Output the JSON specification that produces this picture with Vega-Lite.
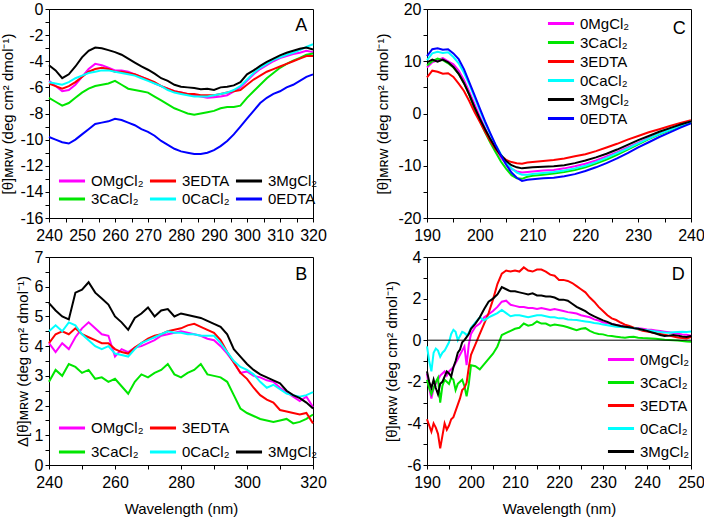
{
  "$schema": "https://vega.github.io/schema/vega-lite/v6.json",
  "padding": {"left": 0, "top": 0, "right": 0, "bottom": 0},
  "background": "white",
  "datasets": {
    "A": [
      {"w":240,"OMgCl₂":-5.5,"3EDTA":-5.7,"3MgCl₂":-4.3,"3CaCl₂":-6.8,"0CaCl₂":-5.6,"0EDTA":-9.8},
      {"w":242,"OMgCl₂":-5.9,"3EDTA":-5.9,"3MgCl₂":-4.7,"3CaCl₂":-7.1,"0CaCl₂":-5.7,"0EDTA":-10.0},
      {"w":244,"OMgCl₂":-6.3,"3EDTA":-6.1,"3MgCl₂":-5.3,"3CaCl₂":-7.4,"0CaCl₂":-5.8,"0EDTA":-10.2},
      {"w":246,"OMgCl₂":-6.2,"3EDTA":-5.9,"3MgCl₂":-5.0,"3CaCl₂":-7.2,"0CaCl₂":-5.6,"0EDTA":-10.3},
      {"w":248,"OMgCl₂":-5.8,"3EDTA":-5.6,"3MgCl₂":-4.4,"3CaCl₂":-6.8,"0CaCl₂":-5.3,"0EDTA":-10.0},
      {"w":250,"OMgCl₂":-5.2,"3EDTA":-5.2,"3MgCl₂":-3.7,"3CaCl₂":-6.4,"0CaCl₂":-5.1,"0EDTA":-9.6},
      {"w":252,"OMgCl₂":-4.6,"3EDTA":-4.8,"3MgCl₂":-3.2,"3CaCl₂":-6.1,"0CaCl₂":-4.9,"0EDTA":-9.2},
      {"w":254,"OMgCl₂":-4.2,"3EDTA":-4.6,"3MgCl₂":-2.95,"3CaCl₂":-5.9,"0CaCl₂":-4.8,"0EDTA":-8.8},
      {"w":256,"OMgCl₂":-4.3,"3EDTA":-4.5,"3MgCl₂":-3.0,"3CaCl₂":-5.8,"0CaCl₂":-4.7,"0EDTA":-8.7},
      {"w":258,"OMgCl₂":-4.5,"3EDTA":-4.6,"3MgCl₂":-3.15,"3CaCl₂":-5.7,"0CaCl₂":-4.7,"0EDTA":-8.6},
      {"w":260,"OMgCl₂":-4.7,"3EDTA":-4.8,"3MgCl₂":-3.3,"3CaCl₂":-5.5,"0CaCl₂":-4.8,"0EDTA":-8.4},
      {"w":262,"OMgCl₂":-4.7,"3EDTA":-4.8,"3MgCl₂":-3.5,"3CaCl₂":-5.8,"0CaCl₂":-4.9,"0EDTA":-8.5},
      {"w":264,"OMgCl₂":-4.8,"3EDTA":-4.9,"3MgCl₂":-3.8,"3CaCl₂":-6.1,"0CaCl₂":-5.0,"0EDTA":-8.7},
      {"w":266,"OMgCl₂":-5.0,"3EDTA":-5.0,"3MgCl₂":-4.1,"3CaCl₂":-6.2,"0CaCl₂":-5.1,"0EDTA":-8.9},
      {"w":268,"OMgCl₂":-5.2,"3EDTA":-5.2,"3MgCl₂":-4.4,"3CaCl₂":-6.3,"0CaCl₂":-5.3,"0EDTA":-9.2},
      {"w":270,"OMgCl₂":-5.4,"3EDTA":-5.4,"3MgCl₂":-4.65,"3CaCl₂":-6.4,"0CaCl₂":-5.5,"0EDTA":-9.4},
      {"w":272,"OMgCl₂":-5.7,"3EDTA":-5.6,"3MgCl₂":-4.95,"3CaCl₂":-6.7,"0CaCl₂":-5.7,"0EDTA":-9.7},
      {"w":274,"OMgCl₂":-5.9,"3EDTA":-5.9,"3MgCl₂":-5.3,"3CaCl₂":-7.0,"0CaCl₂":-5.9,"0EDTA":-10.1},
      {"w":276,"OMgCl₂":-6.1,"3EDTA":-6.1,"3MgCl₂":-5.5,"3CaCl₂":-7.3,"0CaCl₂":-6.2,"0EDTA":-10.4},
      {"w":278,"OMgCl₂":-6.3,"3EDTA":-6.3,"3MgCl₂":-5.8,"3CaCl₂":-7.6,"0CaCl₂":-6.4,"0EDTA":-10.7},
      {"w":280,"OMgCl₂":-6.4,"3EDTA":-6.4,"3MgCl₂":-5.95,"3CaCl₂":-7.8,"0CaCl₂":-6.5,"0EDTA":-10.9},
      {"w":282,"OMgCl₂":-6.5,"3EDTA":-6.5,"3MgCl₂":-6.0,"3CaCl₂":-8.0,"0CaCl₂":-6.6,"0EDTA":-11.0},
      {"w":284,"OMgCl₂":-6.6,"3EDTA":-6.5,"3MgCl₂":-6.05,"3CaCl₂":-8.1,"0CaCl₂":-6.7,"0EDTA":-11.1},
      {"w":286,"OMgCl₂":-6.7,"3EDTA":-6.6,"3MgCl₂":-6.15,"3CaCl₂":-8.0,"0CaCl₂":-6.7,"0EDTA":-11.1},
      {"w":288,"OMgCl₂":-6.8,"3EDTA":-6.6,"3MgCl₂":-6.1,"3CaCl₂":-7.9,"0CaCl₂":-6.7,"0EDTA":-11.0},
      {"w":290,"OMgCl₂":-6.75,"3EDTA":-6.6,"3MgCl₂":-6.2,"3CaCl₂":-7.8,"0CaCl₂":-6.6,"0EDTA":-10.8},
      {"w":292,"OMgCl₂":-6.7,"3EDTA":-6.5,"3MgCl₂":-6.0,"3CaCl₂":-7.6,"0CaCl₂":-6.5,"0EDTA":-10.5},
      {"w":294,"OMgCl₂":-6.6,"3EDTA":-6.4,"3MgCl₂":-5.95,"3CaCl₂":-7.5,"0CaCl₂":-6.4,"0EDTA":-10.1},
      {"w":296,"OMgCl₂":-6.3,"3EDTA":-6.3,"3MgCl₂":-5.85,"3CaCl₂":-7.5,"0CaCl₂":-6.2,"0EDTA":-9.6},
      {"w":298,"OMgCl₂":-6.0,"3EDTA":-6.2,"3MgCl₂":-5.6,"3CaCl₂":-7.4,"0CaCl₂":-5.9,"0EDTA":-9.0},
      {"w":300,"OMgCl₂":-5.5,"3EDTA":-5.8,"3MgCl₂":-5.0,"3CaCl₂":-6.8,"0CaCl₂":-5.4,"0EDTA":-8.4},
      {"w":302,"OMgCl₂":-5.0,"3EDTA":-5.4,"3MgCl₂":-4.7,"3CaCl₂":-6.3,"0CaCl₂":-4.9,"0EDTA":-7.8},
      {"w":304,"OMgCl₂":-4.6,"3EDTA":-5.1,"3MgCl₂":-4.35,"3CaCl₂":-5.8,"0CaCl₂":-4.5,"0EDTA":-7.2},
      {"w":306,"OMgCl₂":-4.3,"3EDTA":-4.8,"3MgCl₂":-4.05,"3CaCl₂":-5.3,"0CaCl₂":-4.2,"0EDTA":-6.8},
      {"w":308,"OMgCl₂":-4.0,"3EDTA":-4.6,"3MgCl₂":-3.8,"3CaCl₂":-4.9,"0CaCl₂":-3.9,"0EDTA":-6.5},
      {"w":310,"OMgCl₂":-3.75,"3EDTA":-4.4,"3MgCl₂":-3.55,"3CaCl₂":-4.5,"0CaCl₂":-3.7,"0EDTA":-6.3},
      {"w":312,"OMgCl₂":-3.6,"3EDTA":-4.2,"3MgCl₂":-3.35,"3CaCl₂":-4.2,"0CaCl₂":-3.5,"0EDTA":-6.0},
      {"w":314,"OMgCl₂":-3.45,"3EDTA":-4.0,"3MgCl₂":-3.2,"3CaCl₂":-3.95,"0CaCl₂":-3.35,"0EDTA":-5.8},
      {"w":316,"OMgCl₂":-3.35,"3EDTA":-3.8,"3MgCl₂":-3.05,"3CaCl₂":-3.75,"0CaCl₂":-3.15,"0EDTA":-5.5},
      {"w":318,"OMgCl₂":-3.2,"3EDTA":-3.6,"3MgCl₂":-2.95,"3CaCl₂":-3.5,"0CaCl₂":-2.9,"0EDTA":-5.2},
      {"w":320,"OMgCl₂":-3.3,"3EDTA":-3.6,"3MgCl₂":-3.1,"3CaCl₂":-3.4,"0CaCl₂":-2.7,"0EDTA":-5.0}
    ],
    "B": [
      {"w":240,"OMgCl₂":4.1,"3EDTA":4.1,"0CaCl₂":4.5,"3CaCl₂":2.8,"3MgCl₂":5.45},
      {"w":242,"OMgCl₂":3.8,"3EDTA":4.4,"0CaCl₂":4.7,"3CaCl₂":3.2,"3MgCl₂":5.2},
      {"w":244,"OMgCl₂":4.1,"3EDTA":4.5,"0CaCl₂":4.5,"3CaCl₂":3.0,"3MgCl₂":5.0},
      {"w":246,"OMgCl₂":3.9,"3EDTA":4.4,"0CaCl₂":4.8,"3CaCl₂":3.4,"3MgCl₂":4.9},
      {"w":248,"OMgCl₂":4.3,"3EDTA":4.6,"0CaCl₂":4.7,"3CaCl₂":3.3,"3MgCl₂":5.8},
      {"w":250,"OMgCl₂":4.6,"3EDTA":4.4,"0CaCl₂":4.4,"3CaCl₂":3.1,"3MgCl₂":5.9},
      {"w":252,"OMgCl₂":4.8,"3EDTA":4.3,"0CaCl₂":4.2,"3CaCl₂":3.2,"3MgCl₂":6.15},
      {"w":254,"OMgCl₂":4.6,"3EDTA":4.2,"0CaCl₂":4.0,"3CaCl₂":2.9,"3MgCl₂":5.8},
      {"w":256,"OMgCl₂":4.4,"3EDTA":4.1,"0CaCl₂":3.9,"3CaCl₂":2.95,"3MgCl₂":5.6},
      {"w":258,"OMgCl₂":4.35,"3EDTA":4.1,"0CaCl₂":4.0,"3CaCl₂":2.8,"3MgCl₂":5.4},
      {"w":260,"OMgCl₂":3.65,"3EDTA":3.9,"0CaCl₂":3.75,"3CaCl₂":2.9,"3MgCl₂":5.0},
      {"w":262,"OMgCl₂":3.9,"3EDTA":3.8,"0CaCl₂":3.7,"3CaCl₂":2.65,"3MgCl₂":4.8},
      {"w":264,"OMgCl₂":3.8,"3EDTA":3.75,"0CaCl₂":3.65,"3CaCl₂":2.4,"3MgCl₂":4.55},
      {"w":266,"OMgCl₂":3.95,"3EDTA":3.95,"0CaCl₂":3.9,"3CaCl₂":2.8,"3MgCl₂":4.95},
      {"w":268,"OMgCl₂":4.0,"3EDTA":4.1,"0CaCl₂":4.1,"3CaCl₂":3.05,"3MgCl₂":5.1},
      {"w":270,"OMgCl₂":4.1,"3EDTA":4.25,"0CaCl₂":4.2,"3CaCl₂":2.95,"3MgCl₂":5.3},
      {"w":272,"OMgCl₂":4.2,"3EDTA":4.35,"0CaCl₂":4.3,"3CaCl₂":3.1,"3MgCl₂":5.0},
      {"w":274,"OMgCl₂":4.35,"3EDTA":4.4,"0CaCl₂":4.4,"3CaCl₂":3.2,"3MgCl₂":5.2},
      {"w":276,"OMgCl₂":4.4,"3EDTA":4.5,"0CaCl₂":4.5,"3CaCl₂":3.4,"3MgCl₂":5.25},
      {"w":278,"OMgCl₂":4.45,"3EDTA":4.55,"0CaCl₂":4.45,"3CaCl₂":3.05,"3MgCl₂":5.0},
      {"w":280,"OMgCl₂":4.5,"3EDTA":4.6,"0CaCl₂":4.45,"3CaCl₂":2.95,"3MgCl₂":5.1},
      {"w":282,"OMgCl₂":4.45,"3EDTA":4.7,"0CaCl₂":4.4,"3CaCl₂":3.1,"3MgCl₂":5.05},
      {"w":284,"OMgCl₂":4.4,"3EDTA":4.75,"0CaCl₂":4.4,"3CaCl₂":3.2,"3MgCl₂":5.0},
      {"w":286,"OMgCl₂":4.35,"3EDTA":4.65,"0CaCl₂":4.35,"3CaCl₂":3.4,"3MgCl₂":4.95},
      {"w":288,"OMgCl₂":4.25,"3EDTA":4.55,"0CaCl₂":4.35,"3CaCl₂":3.05,"3MgCl₂":4.85},
      {"w":290,"OMgCl₂":4.2,"3EDTA":4.45,"0CaCl₂":4.35,"3CaCl₂":3.0,"3MgCl₂":4.75},
      {"w":292,"OMgCl₂":4.0,"3EDTA":4.2,"0CaCl₂":4.1,"3CaCl₂":2.95,"3MgCl₂":4.65},
      {"w":294,"OMgCl₂":3.75,"3EDTA":3.8,"0CaCl₂":3.8,"3CaCl₂":2.8,"3MgCl₂":4.4},
      {"w":296,"OMgCl₂":3.45,"3EDTA":3.45,"0CaCl₂":3.5,"3CaCl₂":2.35,"3MgCl₂":3.9},
      {"w":298,"OMgCl₂":3.1,"3EDTA":3.1,"0CaCl₂":3.3,"3CaCl₂":1.9,"3MgCl₂":3.65},
      {"w":300,"OMgCl₂":3.15,"3EDTA":2.9,"0CaCl₂":3.2,"3CaCl₂":1.75,"3MgCl₂":3.4},
      {"w":302,"OMgCl₂":3.0,"3EDTA":2.6,"0CaCl₂":3.05,"3CaCl₂":1.65,"3MgCl₂":3.2},
      {"w":304,"OMgCl₂":2.95,"3EDTA":2.35,"0CaCl₂":2.8,"3CaCl₂":1.55,"3MgCl₂":3.05},
      {"w":306,"OMgCl₂":2.85,"3EDTA":2.2,"0CaCl₂":2.6,"3CaCl₂":1.5,"3MgCl₂":2.95},
      {"w":308,"OMgCl₂":2.8,"3EDTA":2.1,"0CaCl₂":2.7,"3CaCl₂":1.45,"3MgCl₂":2.85},
      {"w":310,"OMgCl₂":2.6,"3EDTA":1.85,"0CaCl₂":2.55,"3CaCl₂":1.5,"3MgCl₂":2.75},
      {"w":312,"OMgCl₂":2.45,"3EDTA":1.8,"0CaCl₂":2.4,"3CaCl₂":1.55,"3MgCl₂":2.5},
      {"w":314,"OMgCl₂":2.3,"3EDTA":1.75,"0CaCl₂":2.35,"3CaCl₂":1.4,"3MgCl₂":2.35},
      {"w":316,"OMgCl₂":2.15,"3EDTA":1.7,"0CaCl₂":2.3,"3CaCl₂":1.45,"3MgCl₂":2.25},
      {"w":318,"OMgCl₂":2.3,"3EDTA":1.75,"0CaCl₂":2.35,"3CaCl₂":1.55,"3MgCl₂":2.1},
      {"w":320,"OMgCl₂":1.95,"3EDTA":1.4,"0CaCl₂":2.45,"3CaCl₂":1.7,"3MgCl₂":1.9}
    ],
    "C": [
      {"w":190,"0MgCl₂":8.8,"3CaCl₂":9.2,"3EDTA":6.9,"0CaCl₂":10.2,"3MgCl₂":9.8,"0EDTA":11.0},
      {"w":191,"0MgCl₂":9.8,"3CaCl₂":10.0,"3EDTA":8.2,"0CaCl₂":11.5,"3MgCl₂":10.3,"0EDTA":12.3},
      {"w":192,"0MgCl₂":10.2,"3CaCl₂":10.5,"3EDTA":8.0,"0CaCl₂":11.8,"3MgCl₂":9.9,"0EDTA":12.5},
      {"w":193,"0MgCl₂":10.6,"3CaCl₂":10.2,"3EDTA":7.6,"0CaCl₂":11.6,"3MgCl₂":10.3,"0EDTA":12.2},
      {"w":194,"0MgCl₂":10.0,"3CaCl₂":9.6,"3EDTA":7.7,"0CaCl₂":11.7,"3MgCl₂":9.8,"0EDTA":12.3},
      {"w":195,"0MgCl₂":9.4,"3CaCl₂":8.8,"3EDTA":7.0,"0CaCl₂":10.8,"3MgCl₂":8.9,"0EDTA":11.5},
      {"w":196,"0MgCl₂":8.2,"3CaCl₂":7.6,"3EDTA":5.7,"0CaCl₂":9.6,"3MgCl₂":7.6,"0EDTA":10.4},
      {"w":197,"0MgCl₂":6.4,"3CaCl₂":5.8,"3EDTA":4.3,"0CaCl₂":7.8,"3MgCl₂":5.8,"0EDTA":8.5},
      {"w":198,"0MgCl₂":4.2,"3CaCl₂":3.6,"3EDTA":2.4,"0CaCl₂":5.6,"3MgCl₂":3.6,"0EDTA":6.0},
      {"w":199,"0MgCl₂":1.8,"3CaCl₂":1.0,"3EDTA":0.3,"0CaCl₂":3.1,"3MgCl₂":1.2,"0EDTA":3.5},
      {"w":200,"0MgCl₂":-0.6,"3CaCl₂":-1.4,"3EDTA":-1.6,"0CaCl₂":0.6,"3MgCl₂":-1.0,"0EDTA":1.0},
      {"w":201,"0MgCl₂":-2.8,"3CaCl₂":-3.6,"3EDTA":-3.5,"0CaCl₂":-1.8,"3MgCl₂":-3.0,"0EDTA":-1.5},
      {"w":202,"0MgCl₂":-4.9,"3CaCl₂":-5.6,"3EDTA":-5.3,"0CaCl₂":-4.0,"3MgCl₂":-4.9,"0EDTA":-3.8},
      {"w":203,"0MgCl₂":-6.8,"3CaCl₂":-7.4,"3EDTA":-6.8,"0CaCl₂":-6.0,"3MgCl₂":-6.6,"0EDTA":-6.0},
      {"w":204,"0MgCl₂":-8.4,"3CaCl₂":-9.2,"3EDTA":-8.0,"0CaCl₂":-7.8,"3MgCl₂":-8.0,"0EDTA":-8.0},
      {"w":205,"0MgCl₂":-9.7,"3CaCl₂":-10.6,"3EDTA":-8.9,"0CaCl₂":-9.3,"3MgCl₂":-9.1,"0EDTA":-9.8},
      {"w":206,"0MgCl₂":-10.6,"3CaCl₂":-11.8,"3EDTA":-9.3,"0CaCl₂":-10.5,"3MgCl₂":-9.9,"0EDTA":-11.3},
      {"w":207,"0MgCl₂":-11.1,"3CaCl₂":-12.4,"3EDTA":-9.5,"0CaCl₂":-11.3,"3MgCl₂":-10.3,"0EDTA":-12.3},
      {"w":208,"0MgCl₂":-11.3,"3CaCl₂":-12.5,"3EDTA":-9.6,"0CaCl₂":-11.7,"3MgCl₂":-10.5,"0EDTA":-12.9},
      {"w":209,"0MgCl₂":-11.2,"3CaCl₂":-12.1,"3EDTA":-9.4,"0CaCl₂":-11.7,"3MgCl₂":-10.4,"0EDTA":-12.7},
      {"w":210,"0MgCl₂":-11.1,"3CaCl₂":-11.9,"3EDTA":-9.3,"0CaCl₂":-11.6,"3MgCl₂":-10.3,"0EDTA":-12.6},
      {"w":212,"0MgCl₂":-10.9,"3CaCl₂":-11.7,"3EDTA":-9.1,"0CaCl₂":-11.4,"3MgCl₂":-10.2,"0EDTA":-12.4},
      {"w":214,"0MgCl₂":-10.8,"3CaCl₂":-11.5,"3EDTA":-8.9,"0CaCl₂":-11.2,"3MgCl₂":-10.1,"0EDTA":-12.3},
      {"w":216,"0MgCl₂":-10.5,"3CaCl₂":-11.2,"3EDTA":-8.6,"0CaCl₂":-10.9,"3MgCl₂":-9.9,"0EDTA":-12.0},
      {"w":218,"0MgCl₂":-10.1,"3CaCl₂":-10.8,"3EDTA":-8.2,"0CaCl₂":-10.5,"3MgCl₂":-9.5,"0EDTA":-11.6},
      {"w":220,"0MgCl₂":-9.6,"3CaCl₂":-10.3,"3EDTA":-7.8,"0CaCl₂":-10.0,"3MgCl₂":-9.0,"0EDTA":-11.0},
      {"w":222,"0MgCl₂":-9.0,"3CaCl₂":-9.6,"3EDTA":-7.2,"0CaCl₂":-9.3,"3MgCl₂":-8.4,"0EDTA":-10.3},
      {"w":224,"0MgCl₂":-8.2,"3CaCl₂":-8.8,"3EDTA":-6.5,"0CaCl₂":-8.5,"3MgCl₂":-7.7,"0EDTA":-9.5},
      {"w":226,"0MgCl₂":-7.4,"3CaCl₂":-7.9,"3EDTA":-5.8,"0CaCl₂":-7.6,"3MgCl₂":-6.9,"0EDTA":-8.6},
      {"w":228,"0MgCl₂":-6.5,"3CaCl₂":-6.9,"3EDTA":-5.0,"0CaCl₂":-6.7,"3MgCl₂":-6.0,"0EDTA":-7.6},
      {"w":230,"0MgCl₂":-5.6,"3CaCl₂":-5.9,"3EDTA":-4.3,"0CaCl₂":-5.7,"3MgCl₂":-5.1,"0EDTA":-6.5},
      {"w":232,"0MgCl₂":-4.7,"3CaCl₂":-4.9,"3EDTA":-3.6,"0CaCl₂":-4.8,"3MgCl₂":-4.3,"0EDTA":-5.5},
      {"w":234,"0MgCl₂":-3.9,"3CaCl₂":-4.0,"3EDTA":-3.0,"0CaCl₂":-3.9,"3MgCl₂":-3.5,"0EDTA":-4.5},
      {"w":236,"0MgCl₂":-3.1,"3CaCl₂":-3.2,"3EDTA":-2.4,"0CaCl₂":-3.1,"3MgCl₂":-2.8,"0EDTA":-3.6},
      {"w":238,"0MgCl₂":-2.3,"3CaCl₂":-2.4,"3EDTA":-1.8,"0CaCl₂":-2.3,"3MgCl₂":-2.1,"0EDTA":-2.7},
      {"w":240,"0MgCl₂":-1.6,"3CaCl₂":-1.7,"3EDTA":-1.3,"0CaCl₂":-1.5,"3MgCl₂":-1.5,"0EDTA":-1.9}
    ],
    "D": [
      {"w":190.0,"0MgCl₂":-1.6,"3CaCl₂":-1.9,"3EDTA":-3.8,"0CaCl₂":-0.3,"3MgCl₂":-1.5},
      {"w":190.5,"0MgCl₂":-2.3,"3CaCl₂":-2.3,"3EDTA":-4.1,"0CaCl₂":-1.0,"3MgCl₂":-2.0},
      {"w":191.0,"0MgCl₂":-2.8,"3CaCl₂":-2.6,"3EDTA":-4.4,"0CaCl₂":-1.5,"3MgCl₂":-2.3},
      {"w":191.5,"0MgCl₂":-2.3,"3CaCl₂":-2.3,"3EDTA":-4.0,"0CaCl₂":-0.6,"3MgCl₂":-1.9},
      {"w":192.0,"0MgCl₂":-2.1,"3CaCl₂":-2.0,"3EDTA":-4.2,"0CaCl₂":-0.4,"3MgCl₂":-2.3},
      {"w":192.5,"0MgCl₂":-1.9,"3CaCl₂":-1.8,"3EDTA":-4.5,"0CaCl₂":-0.5,"3MgCl₂":-2.6},
      {"w":193.0,"0MgCl₂":-1.7,"3CaCl₂":-3.0,"3EDTA":-5.2,"0CaCl₂":-0.8,"3MgCl₂":-2.1},
      {"w":193.5,"0MgCl₂":-1.6,"3CaCl₂":-2.2,"3EDTA":-4.6,"0CaCl₂":-0.6,"3MgCl₂":-2.0},
      {"w":194.0,"0MgCl₂":-1.5,"3CaCl₂":-1.9,"3EDTA":-4.0,"0CaCl₂":-0.5,"3MgCl₂":-1.75},
      {"w":194.5,"0MgCl₂":-1.7,"3CaCl₂":-2.0,"3EDTA":-4.3,"0CaCl₂":-0.3,"3MgCl₂":-1.5},
      {"w":195.0,"0MgCl₂":-1.5,"3CaCl₂":-2.1,"3EDTA":-4.1,"0CaCl₂":-0.1,"3MgCl₂":-1.6},
      {"w":195.5,"0MgCl₂":-1.4,"3CaCl₂":-1.8,"3EDTA":-3.8,"0CaCl₂":0.3,"3MgCl₂":-1.75},
      {"w":196.0,"0MgCl₂":-1.3,"3CaCl₂":-1.9,"3EDTA":-3.7,"0CaCl₂":0.5,"3MgCl₂":-1.3},
      {"w":196.5,"0MgCl₂":-1.1,"3CaCl₂":-2.4,"3EDTA":-3.4,"0CaCl₂":0.4,"3MgCl₂":-1.0},
      {"w":197.0,"0MgCl₂":-0.9,"3CaCl₂":-2.1,"3EDTA":-3.1,"0CaCl₂":0.0,"3MgCl₂":-0.6},
      {"w":197.5,"0MgCl₂":-0.7,"3CaCl₂":-2.0,"3EDTA":-2.8,"0CaCl₂":0.2,"3MgCl₂":-0.45},
      {"w":198.0,"0MgCl₂":-0.5,"3CaCl₂":-1.9,"3EDTA":-2.4,"0CaCl₂":0.4,"3MgCl₂":-0.1},
      {"w":198.5,"0MgCl₂":-0.3,"3CaCl₂":-2.2,"3EDTA":-2.3,"0CaCl₂":0.35,"3MgCl₂":0.0},
      {"w":199.0,"0MgCl₂":-1.2,"3CaCl₂":-2.7,"3EDTA":-2.05,"0CaCl₂":0.25,"3MgCl₂":0.15},
      {"w":199.5,"0MgCl₂":-0.2,"3CaCl₂":-2.1,"3EDTA":-1.3,"0CaCl₂":0.35,"3MgCl₂":0.3},
      {"w":200,"0MgCl₂":0.3,"3CaCl₂":-1.2,"3EDTA":-0.7,"0CaCl₂":0.6,"3MgCl₂":0.55},
      {"w":201,"0MgCl₂":0.65,"3CaCl₂":-1.25,"3EDTA":-0.2,"0CaCl₂":0.85,"3MgCl₂":0.8},
      {"w":202,"0MgCl₂":0.8,"3CaCl₂":-1.4,"3EDTA":0.3,"0CaCl₂":1.1,"3MgCl₂":1.1},
      {"w":203,"0MgCl₂":1.1,"3CaCl₂":-1.15,"3EDTA":0.8,"0CaCl₂":0.95,"3MgCl₂":1.5},
      {"w":204,"0MgCl₂":1.25,"3CaCl₂":-0.9,"3EDTA":1.3,"0CaCl₂":1.1,"3MgCl₂":1.85},
      {"w":205,"0MgCl₂":1.4,"3CaCl₂":-0.65,"3EDTA":1.95,"0CaCl₂":1.2,"3MgCl₂":2.0},
      {"w":206,"0MgCl₂":1.6,"3CaCl₂":-0.3,"3EDTA":2.7,"0CaCl₂":1.3,"3MgCl₂":2.2},
      {"w":207,"0MgCl₂":1.85,"3CaCl₂":0.25,"3EDTA":3.2,"0CaCl₂":1.45,"3MgCl₂":2.55},
      {"w":208,"0MgCl₂":1.9,"3CaCl₂":0.35,"3EDTA":3.35,"0CaCl₂":1.3,"3MgCl₂":2.45},
      {"w":209,"0MgCl₂":1.7,"3CaCl₂":0.45,"3EDTA":3.3,"0CaCl₂":1.15,"3MgCl₂":2.35},
      {"w":210,"0MgCl₂":1.65,"3CaCl₂":0.55,"3EDTA":3.35,"0CaCl₂":1.2,"3MgCl₂":2.35},
      {"w":211,"0MgCl₂":1.6,"3CaCl₂":0.6,"3EDTA":3.3,"0CaCl₂":1.2,"3MgCl₂":2.3},
      {"w":212,"0MgCl₂":1.6,"3CaCl₂":0.8,"3EDTA":3.5,"0CaCl₂":1.15,"3MgCl₂":2.25},
      {"w":213,"0MgCl₂":1.55,"3CaCl₂":0.7,"3EDTA":3.35,"0CaCl₂":1.1,"3MgCl₂":2.2},
      {"w":214,"0MgCl₂":1.55,"3CaCl₂":0.75,"3EDTA":3.3,"0CaCl₂":1.15,"3MgCl₂":2.25},
      {"w":215,"0MgCl₂":1.5,"3CaCl₂":0.9,"3EDTA":3.4,"0CaCl₂":1.2,"3MgCl₂":2.15},
      {"w":216,"0MgCl₂":1.55,"3CaCl₂":0.8,"3EDTA":3.4,"0CaCl₂":1.2,"3MgCl₂":2.15},
      {"w":217,"0MgCl₂":1.5,"3CaCl₂":0.8,"3EDTA":3.3,"0CaCl₂":1.15,"3MgCl₂":2.1},
      {"w":218,"0MgCl₂":1.45,"3CaCl₂":0.7,"3EDTA":3.15,"0CaCl₂":1.1,"3MgCl₂":2.1},
      {"w":219,"0MgCl₂":1.5,"3CaCl₂":0.75,"3EDTA":3.1,"0CaCl₂":1.1,"3MgCl₂":2.05},
      {"w":220,"0MgCl₂":1.45,"3CaCl₂":0.72,"3EDTA":2.9,"0CaCl₂":1.05,"3MgCl₂":1.95},
      {"w":221,"0MgCl₂":1.4,"3CaCl₂":0.68,"3EDTA":2.9,"0CaCl₂":1.05,"3MgCl₂":1.95},
      {"w":222,"0MgCl₂":1.35,"3CaCl₂":0.62,"3EDTA":2.85,"0CaCl₂":1.0,"3MgCl₂":1.9},
      {"w":223,"0MgCl₂":1.32,"3CaCl₂":0.55,"3EDTA":2.75,"0CaCl₂":0.98,"3MgCl₂":1.75},
      {"w":224,"0MgCl₂":1.28,"3CaCl₂":0.48,"3EDTA":2.6,"0CaCl₂":0.97,"3MgCl₂":1.6},
      {"w":225,"0MgCl₂":1.2,"3CaCl₂":0.55,"3EDTA":2.45,"0CaCl₂":0.93,"3MgCl₂":1.5},
      {"w":226,"0MgCl₂":1.15,"3CaCl₂":0.58,"3EDTA":2.3,"0CaCl₂":0.9,"3MgCl₂":1.4},
      {"w":227,"0MgCl₂":1.1,"3CaCl₂":0.45,"3EDTA":2.05,"0CaCl₂":0.87,"3MgCl₂":1.25},
      {"w":228,"0MgCl₂":1.0,"3CaCl₂":0.35,"3EDTA":1.85,"0CaCl₂":0.83,"3MgCl₂":1.15},
      {"w":229,"0MgCl₂":0.95,"3CaCl₂":0.3,"3EDTA":1.6,"0CaCl₂":0.8,"3MgCl₂":1.05},
      {"w":230,"0MgCl₂":0.85,"3CaCl₂":0.28,"3EDTA":1.4,"0CaCl₂":0.75,"3MgCl₂":0.95},
      {"w":231,"0MgCl₂":0.83,"3CaCl₂":0.22,"3EDTA":1.2,"0CaCl₂":0.72,"3MgCl₂":0.88},
      {"w":232,"0MgCl₂":0.78,"3CaCl₂":0.2,"3EDTA":1.05,"0CaCl₂":0.68,"3MgCl₂":0.78},
      {"w":233,"0MgCl₂":0.73,"3CaCl₂":0.17,"3EDTA":0.97,"0CaCl₂":0.65,"3MgCl₂":0.73},
      {"w":234,"0MgCl₂":0.7,"3CaCl₂":0.14,"3EDTA":0.85,"0CaCl₂":0.63,"3MgCl₂":0.68},
      {"w":235,"0MgCl₂":0.66,"3CaCl₂":0.12,"3EDTA":0.75,"0CaCl₂":0.62,"3MgCl₂":0.65},
      {"w":236,"0MgCl₂":0.62,"3CaCl₂":0.15,"3EDTA":0.68,"0CaCl₂":0.6,"3MgCl₂":0.62},
      {"w":237,"0MgCl₂":0.58,"3CaCl₂":0.16,"3EDTA":0.6,"0CaCl₂":0.58,"3MgCl₂":0.58},
      {"w":238,"0MgCl₂":0.57,"3CaCl₂":0.12,"3EDTA":0.52,"0CaCl₂":0.55,"3MgCl₂":0.55},
      {"w":239,"0MgCl₂":0.55,"3CaCl₂":0.1,"3EDTA":0.45,"0CaCl₂":0.5,"3MgCl₂":0.5},
      {"w":240,"0MgCl₂":0.52,"3CaCl₂":0.09,"3EDTA":0.42,"0CaCl₂":0.48,"3MgCl₂":0.45},
      {"w":241,"0MgCl₂":0.5,"3CaCl₂":0.08,"3EDTA":0.38,"0CaCl₂":0.45,"3MgCl₂":0.38},
      {"w":242,"0MgCl₂":0.47,"3CaCl₂":0.07,"3EDTA":0.33,"0CaCl₂":0.42,"3MgCl₂":0.32},
      {"w":243,"0MgCl₂":0.44,"3CaCl₂":0.05,"3EDTA":0.3,"0CaCl₂":0.39,"3MgCl₂":0.25},
      {"w":244,"0MgCl₂":0.41,"3CaCl₂":0.02,"3EDTA":0.26,"0CaCl₂":0.37,"3MgCl₂":0.2},
      {"w":245,"0MgCl₂":0.38,"3CaCl₂":0.01,"3EDTA":0.22,"0CaCl₂":0.36,"3MgCl₂":0.22},
      {"w":246,"0MgCl₂":0.35,"3CaCl₂":0.0,"3EDTA":0.18,"0CaCl₂":0.38,"3MgCl₂":0.25},
      {"w":247,"0MgCl₂":0.31,"3CaCl₂":-0.02,"3EDTA":0.13,"0CaCl₂":0.4,"3MgCl₂":0.22},
      {"w":248,"0MgCl₂":0.28,"3CaCl₂":-0.04,"3EDTA":0.1,"0CaCl₂":0.41,"3MgCl₂":0.18},
      {"w":249,"0MgCl₂":0.26,"3CaCl₂":-0.06,"3EDTA":0.08,"0CaCl₂":0.4,"3MgCl₂":0.16},
      {"w":250,"0MgCl₂":0.22,"3CaCl₂":-0.07,"3EDTA":0.15,"0CaCl₂":0.42,"3MgCl₂":0.2}
    ]
  },
  "config": {
    "font": "Liberation Sans, Arial, sans-serif",
    "view": {"stroke": "black", "strokeWidth": 1},
    "axis": {
      "grid": false, "domainColor": "black", "domainWidth": 1, "tickColor": "black", "tickSize": 4,
      "labelColor": "black", "labelFontSize": 16, "labelPadding": 2, "labelFlush": false, "labelOverlap": false, "labelBound": false,
      "titleColor": "black", "titleFontSize": 15, "titleFontWeight": "normal"
    },
    "axisBottom": {"labelPadding": 5},
    "legend": {
      "symbolType": "stroke", "symbolSize": 680, "symbolStrokeWidth": 3, "labelFontSize": 15, "labelColor": "black",
      "labelOffset": 4, "padding": 0, "title": null
    },
    "text": {"fontSize": 18, "color": "black"}
  },
  "columns": 2,
  "bounds": "flush",
  "spacing": {"row": 39, "column": 114},
  "resolve": {"scale": {"color": "independent", "x": "independent", "y": "independent"}, "legend": {"color": "independent"}},
  "concat": [
    {
      "width": 264, "height": 209,
      "resolve": {"axis": {"x": "independent", "y": "independent"}},
      "layer": [
        {
          "data": {"name": "A"},
          "transform": [{"fold": ["OMgCl₂", "3CaCl₂", "3EDTA", "0CaCl₂", "3MgCl₂", "0EDTA"], "as": ["s", "v"]}],
          "mark": {"type": "line", "strokeWidth": 2},
          "encoding": {
            "x": {"field": "w", "type": "quantitative", "scale": {"domain": [240, 320], "nice": false, "zero": false},
                  "axis": {"orient": "bottom", "title": null, "labelOverlap": false, "values": [240,250,260,270,280,290,300,310,320]}},
            "y": {"field": "v", "type": "quantitative", "scale": {"domain": [-16, 0], "nice": false, "zero": false},
                  "axis": {"orient": "left", "title": "[θ]ᴍʀᴡ (deg cm² dmol⁻¹)", "labelOverlap": false, "values": [-16,-14,-12,-10,-8,-6,-4,-2,0], "labelExpr": "'' + datum.value"}},
            "color": {"field": "s", "type": "nominal",
              "scale": {"domain": ["OMgCl₂", "3CaCl₂", "3EDTA", "0CaCl₂", "3MgCl₂", "0EDTA"], "range": ["#ff00ff", "#00e600", "#ff0000", "#00ffff", "#000000", "#0000ff"]},
              "legend": {"orient": "none", "legendX": 8, "legendY": 163, "columns": 3, "columnPadding": 4, "rowPadding": 0, "clipHeight": 18}}
          }
        },
        {
          "data": {"values": [{}]},
          "mark": {"type": "text", "align": "right", "baseline": "middle"},
          "encoding": {
            "x": {"datum": 318.3, "axis": {"orient": "bottom", "title": null, "labels": false, "domain": false, "values": [245,255,265,275,285,295,305,315]}},
            "y": {"datum": -1.3, "axis": {"orient": "left", "title": null, "labels": false, "domain": false, "values": [-15,-13,-11,-9,-7,-5,-3,-1]}},
            "text": {"value": "A"}}
        }
      ]
    },
    {
      "width": 264, "height": 209,
      "resolve": {"axis": {"x": "independent", "y": "independent"}},
      "layer": [
        {
          "data": {"name": "C"},
          "transform": [{"fold": ["0MgCl₂", "3CaCl₂", "3EDTA", "0CaCl₂", "3MgCl₂", "0EDTA"], "as": ["s", "v"]}],
          "mark": {"type": "line", "strokeWidth": 2},
          "encoding": {
            "x": {"field": "w", "type": "quantitative", "scale": {"domain": [190, 240], "nice": false, "zero": false},
                  "axis": {"orient": "bottom", "title": null, "labelOverlap": false, "values": [190,200,210,220,230,240]}},
            "y": {"field": "v", "type": "quantitative", "scale": {"domain": [-20, 20], "nice": false, "zero": false},
                  "axis": {"orient": "left", "title": "[θ]ᴍʀᴡ (deg cm² dmol⁻¹)", "titlePadding": 7, "labelOverlap": false, "values": [-20,-10,0,10,20], "labelExpr": "'' + datum.value"}},
            "color": {"field": "s", "type": "nominal",
              "scale": {"domain": ["0MgCl₂", "3CaCl₂", "3EDTA", "0CaCl₂", "3MgCl₂", "0EDTA"], "range": ["#ff00ff", "#00e600", "#ff0000", "#00ffff", "#000000", "#0000ff"]},
              "legend": {"orient": "none", "legendX": 119, "legendY": 5, "columns": 1, "rowPadding": 0, "clipHeight": 19}}
          }
        },
        {
          "data": {"values": [{}]},
          "mark": {"type": "text", "align": "right", "baseline": "middle"},
          "encoding": {
            "x": {"datum": 239.0, "axis": {"orient": "bottom", "title": null, "labels": false, "domain": false, "values": [195,205,215,225,235]}},
            "y": {"datum": 16.2, "axis": {"orient": "left", "title": null, "labels": false, "domain": false, "values": [-15,-5,5,15]}},
            "text": {"value": "C"}}
        }
      ]
    },
    {
      "width": 264, "height": 208,
      "resolve": {"axis": {"x": "independent", "y": "independent"}},
      "layer": [
        {
          "data": {"name": "B"},
          "transform": [{"fold": ["OMgCl₂", "3CaCl₂", "3EDTA", "0CaCl₂", "3MgCl₂"], "as": ["s", "v"]}],
          "mark": {"type": "line", "strokeWidth": 2},
          "encoding": {
            "x": {"field": "w", "type": "quantitative", "scale": {"domain": [240, 320], "nice": false, "zero": false},
                  "axis": {"orient": "bottom", "title": "Wavelength (nm)", "titlePadding": 11, "labelOverlap": false, "values": [240,260,280,300,320]}},
            "y": {"field": "v", "type": "quantitative", "scale": {"domain": [0, 7], "nice": false, "zero": false},
                  "axis": {"orient": "left", "title": "Δ[θ]ᴍʀᴡ (deg cm² dmol⁻¹)", "labelOverlap": false, "values": [0,1,2,3,4,5,6,7]}},
            "color": {"field": "s", "type": "nominal",
              "scale": {"domain": ["OMgCl₂", "3CaCl₂", "3EDTA", "0CaCl₂", " ", "3MgCl₂"], "range": ["#ff00ff", "#00e600", "#ff0000", "#00ffff", "rgba(0,0,0,0)", "#000000"]},
              "legend": {"orient": "none", "legendX": 8, "legendY": 159, "columns": 3, "columnPadding": 4, "rowPadding": 0, "clipHeight": 24, "values": ["OMgCl₂", "3CaCl₂", "3EDTA", "0CaCl₂", " ", "3MgCl₂"]}}
          }
        },
        {
          "data": {"values": [{}]},
          "mark": {"type": "text", "align": "right", "baseline": "middle"},
          "encoding": {
            "x": {"datum": 318.3, "axis": {"orient": "bottom", "title": null, "labels": false, "domain": false, "values": [250,270,290,310]}},
            "y": {"datum": 6.39, "axis": {"orient": "left", "title": null, "labels": false, "domain": false, "values": [0.5,1.5,2.5,3.5,4.5,5.5,6.5]}},
            "text": {"value": "B"}}
        }
      ]
    },
    {
      "width": 264, "height": 208,
      "resolve": {"axis": {"x": "independent", "y": "independent"}},
      "layer": [
        {
          "data": {"name": "D"},
          "transform": [{"fold": ["0MgCl₂", "3CaCl₂", "3EDTA", "0CaCl₂", "3MgCl₂"], "as": ["s", "v"]}],
          "mark": {"type": "line", "strokeWidth": 2},
          "encoding": {
            "x": {"field": "w", "type": "quantitative", "scale": {"domain": [190, 250], "nice": false, "zero": false},
                  "axis": {"orient": "bottom", "title": "Wavelength (nm)", "titlePadding": 11, "labelOverlap": false, "values": [190,200,210,220,230,240,250]}},
            "y": {"field": "v", "type": "quantitative", "scale": {"domain": [-6, 4], "nice": false, "zero": false},
                  "axis": {"orient": "left", "title": "[θ]ᴍʀᴡ (deg cm² dmol⁻¹)", "titlePadding": 7, "labelOverlap": false, "values": [-6,-4,-2,0,2,4], "labelExpr": "'' + datum.value"}},
            "color": {"field": "s", "type": "nominal",
              "scale": {"domain": ["0MgCl₂", "3CaCl₂", "3EDTA", "0CaCl₂", "3MgCl₂"], "range": ["#ff00ff", "#00e600", "#ff0000", "#00ffff", "#000000"]},
              "legend": {"orient": "none", "legendX": 179, "legendY": 91, "columns": 1, "rowPadding": 0, "clipHeight": 23}}
          }
        },
        {
          "data": {"values": [{}]},
          "mark": {"type": "rule", "color": "black", "strokeWidth": 1},
          "encoding": {"y": {"datum": 0, "axis": null}}
        },
        {
          "data": {"values": [{}]},
          "mark": {"type": "text", "align": "right", "baseline": "middle"},
          "encoding": {
            "x": {"datum": 248.6, "axis": {"orient": "bottom", "title": null, "labels": false, "domain": false, "values": [195,205,215,225,235,245]}},
            "y": {"datum": 3.14, "axis": {"orient": "left", "title": null, "labels": false, "domain": false, "values": [-5,-3,-1,1,3]}},
            "text": {"value": "D"}}
        }
      ]
    }
  ]
}
